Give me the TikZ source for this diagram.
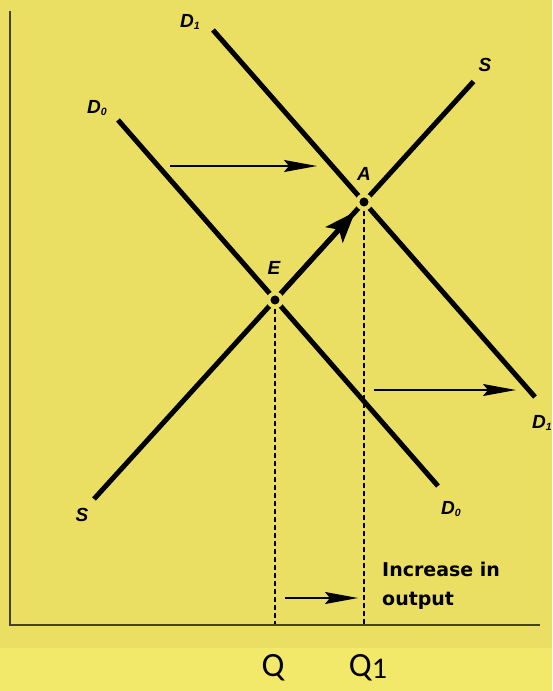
\documentclass[tikz,border=0pt]{standalone}
\usepackage{fontspec}
\setmainfont{Liberation Sans}
\newfontfamily\widefont{DejaVu Sans}
\newfontfamily\axisfont{Carlito}
\usepackage{tikz}
\usetikzlibrary{arrows.meta, calc}
\definecolor{bgmain}{RGB}{234,223,98}
\definecolor{bgband}{RGB}{242,232,106}
\definecolor{axisgray}{RGB}{70,66,40}
\newcommand{\dlab}[2]{{\bfseries\itshape #1}\raisebox{-2pt}{\fontsize{10.5}{10.5}\selectfont\bfseries #2}}

\begin{document}
\begin{tikzpicture}[x=1pt, y=-1pt,
    curve/.style={line width=5pt, line cap=butt},
    axisline/.style={line width=2.5pt, axisgray},
    guide/.style={line width=1.8pt, dash pattern=on 5pt off 3pt},
    shiftarrow/.style={line width=1.6pt, -{Stealth[length=33pt, width=12pt, inset=5pt]}},
    dot/.style={circle, fill=black, draw=bgmain, line width=4pt, inner sep=0pt, minimum size=13pt},
    lbl/.style={font=\fontsize{19}{19}\selectfont\bfseries\itshape, inner sep=0pt}
  ]
    \useasboundingbox (0,0) rectangle (552,691);
    % Background
    \fill[bgmain] (0,0) rectangle (552,648);
    \fill[bgband] (0,648) rectangle (552,691);

    % Axes
    \coordinate (origin) at (10,625);
    \coordinate (ytop) at (10,11);
    \coordinate (xend) at (540,625);
    \draw[axisline] (ytop) -- (origin) -- (xend);

    % Equilibrium points
    \coordinate (Epos) at (275,300);
    \coordinate (Apos) at (364,202);

    % Curves
    \coordinate (Sa) at (94,499);
    \coordinate (Sb) at (473.5,81.5);
    \coordinate (D0a) at (118,120);
    \coordinate (D0b) at (438,486);
    \coordinate (D1a) at (213,30);
    \coordinate (D1b) at (535,397);
    \draw[curve] (Sa) -- (Sb);
    \draw[curve] (D0a) -- (D0b);
    \draw[curve] (D1a) -- (D1b);

    % Movement along S
    \coordinate (tipEA) at ($(Epos)!0.9!(Apos)$);
    \draw[curve, -{Stealth[length=31pt, width=23pt, inset=7pt]}] (Epos) -- (tipEA);

    % Points
    \node[dot] (E) at (Epos) {};
    \node[dot] (A) at (Apos) {};

    % Guides to the axis
    \coordinate (qE) at (275,624);
    \coordinate (qA) at (364,624);
    \draw[guide] (E) -- (qE);
    \draw[guide] (A) -- (qA);

    % Shift arrows
    \coordinate (t1s) at (170,166);
    \coordinate (t1e) at (317,166);
    \coordinate (t2s) at (374,390);
    \coordinate (t2e) at (516,390);
    \coordinate (t3s) at (285,598);
    \coordinate (t3e) at (358,598);
    \draw[shiftarrow] (t1s) -- (t1e);
    \draw[shiftarrow] (t2s) -- (t2e);
    \draw[shiftarrow] (t3s) -- (t3e);

    % Labels
    \node[lbl] (lD1top) at (190,22) {\dlab{D}{1}};
    \node[lbl] (lD0top) at (97,108) {\dlab{D}{0}};
    \node[lbl] (lStop) at (485,65) {S};
    \node[lbl] (lA) at (364,174) {A};
    \node[lbl] (lE) at (274,268) {E};
    \node[lbl, anchor=east] (lD1bot) at (552,423) {\dlab{D}{1}};
    \node[lbl] (lD0bot) at (451,509) {\dlab{D}{0}};
    \node[lbl] (lSbot) at (82,515) {S};
    \node[anchor=north west, align=left, inner sep=0pt,
          font=\widefont\fontsize{19}{29}\selectfont\bfseries] (note) at (382,562)
      {Increase in\\output};

    % Quantities
    \node[font=\axisfont\fontsize{34}{34}\selectfont, inner sep=0pt] (Q) at (273,668) {Q};
    \node[font=\axisfont\fontsize{34}{34}\selectfont, inner sep=0pt] (Q1) at (368,668) {Q\raisebox{-2pt}{\fontsize{30}{30}\selectfont 1}};
  \end{tikzpicture}
\end{document}
